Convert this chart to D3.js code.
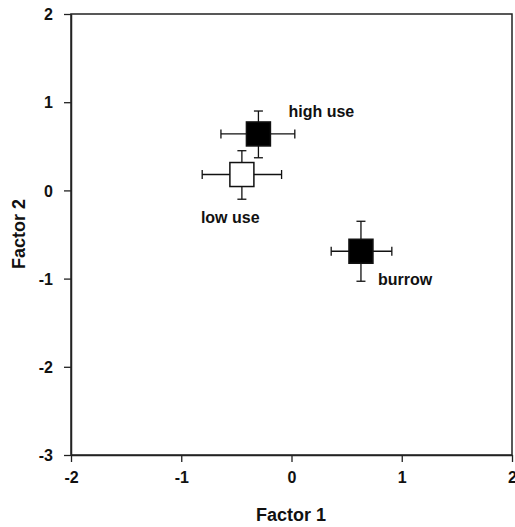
<!DOCTYPE html>
<html lang="en">
<head>
    <meta charset="UTF-8">
    <title>Factor scores</title>
    <script src="https://cdnjs.cloudflare.com/ajax/libs/d3/7.9.0/d3.min.js"></script>
    <style>
        body { margin: 0; background: #fff; }
        text { font-family: "Liberation Sans", Arial, sans-serif; font-weight: bold; fill: #111; }
    </style>
</head>
<body>
    <svg width="515" height="527"></svg>

    <script>
        // Data: group means and error bar extents
        let groups = ["high use", "low use", "burrow"];
        let factor1 = [-0.30, -0.45, 0.63];
        let factor2 = [0.64, 0.18, -0.69];
        let f1Low = [-0.64, -0.81, 0.36];
        let f1High = [0.03, -0.09, 0.91];
        let f2Low = [0.37, -0.10, -1.03];
        let f2High = [0.90, 0.45, -0.35];
        let filled = [true, false, true];

        let xTicks = [-2, -1, 0, 1, 2];
        let yTicks = [-3, -2, -1, 0, 1, 2];

        let svg = d3.select("svg");

        // Scales
        let xScale = d3.scaleLinear().domain([-2, 2]).range([71, 512]);
        let yScale = d3.scaleLinear().domain([-3, 2]).range([455, 14]);

        // Frame round the plot
        svg.append("rect")
            .attr("x", 71)
            .attr("y", 14)
            .attr("width", 441)
            .attr("height", 441)
            .attr("fill", "none")
            .attr("stroke", "#222")
            .attr("stroke-width", 1.5);

        // Axes (plain hyphen for negatives, as in the original)
        let fmt = d => String(d);
        let xAxis = svg.append("g")
            .attr("transform", "translate(0,455)")
            .call(d3.axisBottom(xScale).tickValues(xTicks).tickFormat(fmt).tickSize(7).tickSizeOuter(0).tickPadding(10));

        let yAxis = svg.append("g")
            .attr("transform", "translate(71,0)")
            .call(d3.axisLeft(yScale).tickValues(yTicks).tickFormat(fmt).tickSize(7).tickSizeOuter(0).tickPadding(11));

        [xAxis, yAxis].forEach(a => {
            a.select(".domain").attr("stroke", "#222").attr("stroke-width", 1.5);
            a.selectAll(".tick line").attr("stroke", "#222").attr("stroke-width", 1.3);
            a.selectAll(".tick text")
                .attr("font-size", "16px")
                .attr("font-family", "Liberation Sans, Arial, sans-serif")
                .attr("font-weight", "bold")
                .attr("fill", "#111");
        });
        yAxis.selectAll(".tick text").attr("dy", "0.35em");

        // Axis titles
        svg.append("text")
            .attr("x", 291)
            .attr("y", 521)
            .attr("text-anchor", "middle")
            .attr("font-size", "18px")
            .text("Factor 1");

        svg.append("text")
            .attr("transform", "translate(25,234) rotate(-90)")
            .attr("text-anchor", "middle")
            .attr("font-size", "18px")
            .text("Factor 2");

        // Error bars and squares
        let cap = 4.5;
        let half = 12;
        groups.forEach((g, i) => {
            let cx = xScale(factor1[i]);
            let cy = yScale(factor2[i]);
            let bars = svg.append("g").attr("stroke", "#111").attr("stroke-width", 1.3);

            bars.append("line")
                .attr("x1", xScale(f1Low[i])).attr("x2", xScale(f1High[i]))
                .attr("y1", cy).attr("y2", cy);
            bars.append("line")
                .attr("x1", xScale(f1Low[i])).attr("x2", xScale(f1Low[i]))
                .attr("y1", cy - cap).attr("y2", cy + cap);
            bars.append("line")
                .attr("x1", xScale(f1High[i])).attr("x2", xScale(f1High[i]))
                .attr("y1", cy - cap).attr("y2", cy + cap);

            bars.append("line")
                .attr("x1", cx).attr("x2", cx)
                .attr("y1", yScale(f2Low[i])).attr("y2", yScale(f2High[i]));
            bars.append("line")
                .attr("x1", cx - cap).attr("x2", cx + cap)
                .attr("y1", yScale(f2Low[i])).attr("y2", yScale(f2Low[i]));
            bars.append("line")
                .attr("x1", cx - cap).attr("x2", cx + cap)
                .attr("y1", yScale(f2High[i])).attr("y2", yScale(f2High[i]));

            svg.append("rect")
                .attr("x", cx - half)
                .attr("y", cy - half)
                .attr("width", half * 2)
                .attr("height", half * 2)
                .attr("fill", filled[i] ? "#000" : "#fff")
                .attr("stroke", "#111")
                .attr("stroke-width", 1.5);
        });

        // Group labels, placed next to each square
        let labelOffset = { "high use": [30, -17], "low use": [-41, 48], "burrow": [17, 34] };
        groups.forEach((g, i) => {
            svg.append("text")
                .attr("x", xScale(factor1[i]) + labelOffset[g][0])
                .attr("y", yScale(factor2[i]) + labelOffset[g][1])
                .attr("font-size", "16px")
                .text(g);
        });
    </script>
</body>
</html>
